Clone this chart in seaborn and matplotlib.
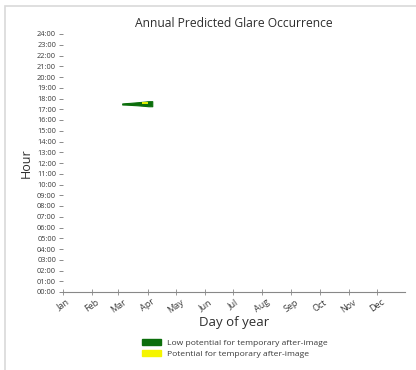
import matplotlib
matplotlib.use("Agg")
import matplotlib.pyplot as plt
import matplotlib.patches as mpatches
import pandas as pd
import seaborn as sns

# month ticks (day of year)
month_days = [1, 32, 60, 91, 121, 152, 182, 213, 244, 274, 305, 335]
month_labels = ["Jan", "Feb", "Mar", "Apr", "May", "Jun",
                "Jul", "Aug", "Sep", "Oct", "Nov", "Dec"]
hour_ticks = list(range(0, 25))
hour_labels = [f"{h:02d}:00" for h in hour_ticks]

# low potential glare band (green): day, lower hour, upper hour
green_days = [64, 68, 72, 76, 80, 84, 88, 92, 96]
green_low = [17.44, 17.43, 17.41, 17.39, 17.37, 17.34, 17.31, 17.28, 17.28]
green_high = [17.54, 17.57, 17.59, 17.62, 17.65, 17.68, 17.71, 17.75, 17.75]

# potential for after-image (yellow) points
yellow_days = [86, 87, 88, 89, 90]
yellow_hours = [17.58, 17.62, 17.60, 17.57, 17.62]


def draw_chart():
    sns.set_style("white")
    plt.rcParams["font.family"] = ["Open Sans", "DejaVu Sans"]

    fig = plt.figure(figsize=(4.16, 3.70), dpi=100)
    # card border
    fig.patches.append(mpatches.Rectangle((5 / 416, -0.1), 1.2, 1 - 6 / 370 + 0.1,
                                          transform=fig.transFigure, fill=False,
                                          edgecolor="#d9d9d9", linewidth=1.2))
    ax = fig.add_axes([63 / 416, 1 - 292 / 370, (405 - 63) / 416, (292 - 34) / 370])

    ax.fill_between(green_days, green_low, green_high, color="#0b6e0b", linewidth=0.8,
                    edgecolor="#0b6e0b")
    df = pd.DataFrame({"day": yellow_days, "hour": yellow_hours})
    sns.scatterplot(data=df, x="day", y="hour", ax=ax, color="#d8ec00", marker="s",
                    s=4, linewidth=0, legend=False)

    ax.set_xlim(1, 365)
    ax.set_ylim(0, 24)
    ax.set_xticks(month_days)
    ax.set_xticklabels(month_labels, rotation=35, fontsize=6.5, color="#3a3a3a")
    ax.set_yticks(hour_ticks)
    ax.set_yticklabels(hour_labels, fontsize=5.3, color="#3a3a3a")
    ax.tick_params(axis="y", left=True, length=3, width=0.6, color="#777777", pad=2)
    ax.tick_params(axis="x", bottom=True, direction="inout", length=4, width=0.6,
                   color="#888888", pad=2)

    for side in ["left", "top", "right"]:
        ax.spines[side].set_visible(False)
    ax.spines["bottom"].set_color("#888888")
    ax.spines["bottom"].set_linewidth(0.8)

    ax.set_title("Annual Predicted Glare Occurrence", fontsize=8.7, color="#2e2e2e", pad=5)
    ax.set_xlabel("Day of year", fontsize=9.5, color="#2e2e2e", labelpad=1)
    ax.set_ylabel("Hour", fontsize=9, color="#2e2e2e", labelpad=3)

    handles = [
        mpatches.Patch(color="#0b6e0b", label="Low potential for temporary after-image"),
        mpatches.Patch(color="#f5f500", label="Potential for temporary after-image"),
    ]
    fig.legend(handles=handles, loc="upper center", bbox_to_anchor=(0.565, 0.095),
               frameon=False, fontsize=6.1, handlelength=2.2, handleheight=0.7,
               labelspacing=0.35, borderpad=0, labelcolor="#3a3a3a")

    fig.savefig("out.png", dpi=100)


if __name__ == "__main__":
    draw_chart()
